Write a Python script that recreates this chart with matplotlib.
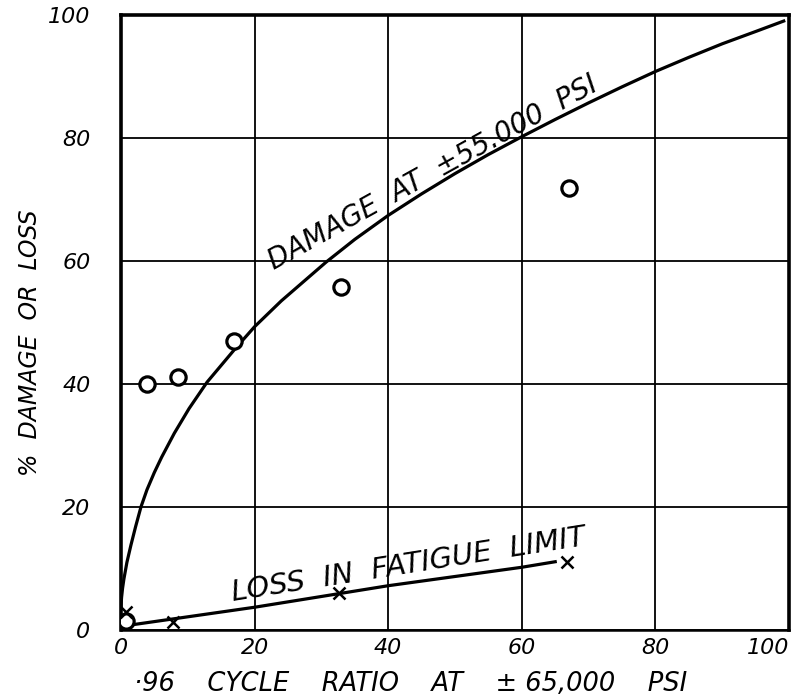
import matplotlib
matplotlib.use("Agg")
import matplotlib.pyplot as plt

# Damage curve at +-55,000 psi
curve_x = [0.02, 0.1, 0.25, 0.45, 0.9, 1.5, 2.2, 3.0, 3.9, 5.0, 6.1, 8.0, 10.2, 12.9, 17, 20, 24,
           30.7, 35, 40, 45, 50, 55, 60, 65, 70, 75, 80, 85, 90, 95, 99.2]
curve_y = [4.0, 5.3, 6.8, 8.3, 11.0, 13.8, 16.8, 20.0, 22.8, 25.6, 28.1, 32.0, 36.0, 40.3, 45.6, 49.3, 53.5,
           59.8, 63.5, 67.4, 70.9, 74.2, 77.3, 80.2, 83.0, 85.7, 88.3, 90.8, 93.1, 95.3, 97.3, 99.0]

# Damage data points (circles)
circ_x = [0.7, 3.9, 8.5, 17, 33, 67]
circ_y = [1.5, 40, 41.1, 47, 55.8, 71.9]

# Loss in fatigue limit points (crosses)
cross_x = [0.7, 7.8, 32.7, 66.7]
cross_y = [3.0, 1.3, 6.0, 11.0]

# Loss line
loss_x = [2, 20, 40, 60, 65]
loss_y = [0.9, 3.7, 7.2, 10.2, 11.1]

ticks = [0, 20, 40, 60, 80, 100]
tick_labels = ["0", "20", "40", "60", "80", "100"]

plt.rcParams['font.family'] = ['DejaVu Sans']
fig = plt.figure(figsize=(8.06, 6.99), dpi=100)
ax = fig.add_axes([0.150, 0.0987, 0.829, 0.88])
ax.set_xlim(0, 100)
ax.set_ylim(0, 100)

ax.set_xticks(ticks)
ax.set_yticks(ticks)
ax.set_xticklabels(tick_labels, fontsize=16, style='italic')
ax.set_yticklabels(tick_labels, fontsize=16, style='italic')
ax.get_xticklabels()[-1].set_horizontalalignment('right')
ax.tick_params(axis='both', length=0)
ax.tick_params(axis='x', pad=6)
ax.tick_params(axis='y', pad=22)
ax.grid(True, color='black', linewidth=1.3)
ax.set_axisbelow(True)
for s in ax.spines.values():
    s.set_linewidth(2.6)
ax.spines['bottom'].set_linewidth(1.8)

ax.plot(curve_x, curve_y, color='black', linewidth=2.3, zorder=3, solid_joinstyle='round')
ax.plot(loss_x, loss_y, color='black', linewidth=2.3, zorder=3)
ax.plot(circ_x, circ_y, linestyle='none', marker='o', markersize=11,
        markerfacecolor='white', markeredgecolor='black', markeredgewidth=2.3, zorder=4)
ax.plot(cross_x, cross_y, linestyle='none', marker='x', markersize=9,
        color='black', markeredgewidth=1.8, zorder=4)

ax.text(47.3, 73.2, "DAMAGE  AT  \u00b155.000  PSI", rotation=29, rotation_mode='anchor',
        ha='center', va='baseline', fontsize=20, style='italic', zorder=5)
ax.text(43.3, 9.3, "LOSS  IN  FATIGUE  LIMIT", rotation=9, rotation_mode='anchor',
        ha='center', va='baseline', fontsize=21, style='italic', zorder=5)

ax.set_xlabel("\u00b796    CYCLE    RATIO    AT    \u00b1 65,000    PSI", fontsize=18.5, style='italic')
ax.xaxis.set_label_coords(0.433, -0.066)
ax.set_ylabel("%  DAMAGE  OR  LOSS", fontsize=17, style='italic')
ax.yaxis.set_label_coords(-0.118, 0.467)

fig.savefig("out.png", dpi=100)
